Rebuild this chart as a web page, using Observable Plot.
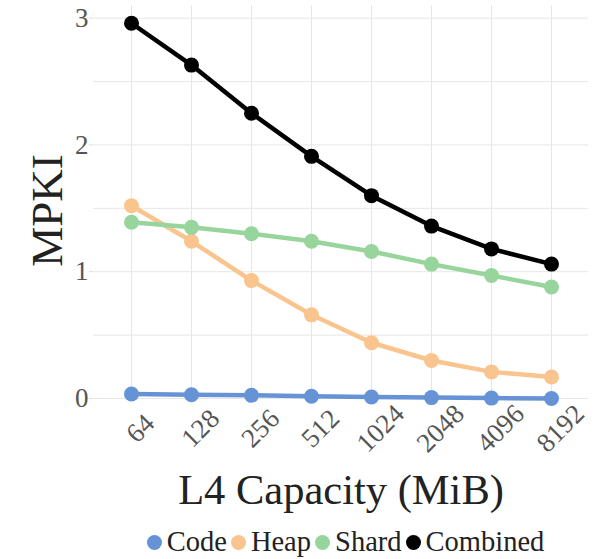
<!DOCTYPE html>
<html>
<head>
<meta charset="utf-8">
<script src="https://cdn.jsdelivr.net/npm/d3@7"></script>
<script src="https://cdn.jsdelivr.net/npm/@observablehq/plot@0.6"></script>
<style>
  html, body { margin: 0; padding: 0; background: #fff; font-family: 'Liberation Serif'; }
  #chart svg { display: block; }
  .legend { display: flex; justify-content: center; align-items: center; font-family: 'Liberation Serif'; font-size: 28.5px; color: #222; height: 34px; margin-top: 10px; padding-left: 90px; }
  .legend .item { display: flex; align-items: center; margin-left: 4px; }
  .legend .item:first-child { margin-left: 0; }
  .legend .sw { width: 15px; height: 15px; border-radius: 50%; display: inline-block; margin-right: 5px; }
</style>
</head>
<body>
<div id="chart"></div>
<script>
const sizes = ["64", "128", "256", "512", "1024", "2048", "4096", "8192"];
const seriesNames = ["Code", "Heap", "Shard", "Combined"];
const seriesColors = ["#6593d6", "#f9c48e", "#98d59c", "#000000"];
const code = [0.035, 0.03, 0.025, 0.018, 0.012, 0.007, 0.003, 0.0];
const heap = [1.52, 1.24, 0.93, 0.66, 0.44, 0.30, 0.21, 0.17];
const shard = [1.39, 1.35, 1.30, 1.24, 1.16, 1.06, 0.97, 0.88];
const combined = [2.96, 2.63, 2.25, 1.91, 1.60, 1.36, 1.18, 1.06];
const yTicks = [0, 1, 2, 3];
const yGrid = [0, 0.5, 1, 1.5, 2, 2.5, 3];

const valuesBySeries = [code, heap, shard, combined];
const data = seriesNames.flatMap((name, i) =>
  sizes.map((s, j) => ({series: name, size: s, value: valuesBySeries[i][j]}))
);

const serif = "Liberation Serif";

const chart = Plot.plot({
  width: 601,
  height: 515,
  marginLeft: 93,
  marginRight: 13,
  marginTop: 5,
  marginBottom: 117,
  style: {fontFamily: serif, background: "white"},
  x: {type: "point", domain: sizes, padding: 0.6, label: null, axis: null},
  y: {domain: [0, 3.1], label: null},
  color: {domain: seriesNames, range: seriesColors},
  marks: [
    Plot.gridX(sizes, {stroke: "#e6e6e6", strokeOpacity: 1, strokeWidth: 1}),
    Plot.gridY(yGrid, {stroke: "#e6e6e6", strokeOpacity: 1, strokeWidth: 1}),
    Plot.axisY(yTicks, {tickSize: 4, tickPadding: 1, fontSize: 27, color: "#555", stroke: "#ddd", tickFormat: d => String(d), fontFamily: serif}),
    Plot.text(sizes, {x: d => d, frameAnchor: "bottom", dx: 9, dy: 30, rotate: -45, textAnchor: "middle", lineAnchor: "middle", fontSize: 27, fill: "#555", fontFamily: serif}),
    Plot.text(["MPKI"], {frameAnchor: "left", rotate: -90, textAnchor: "middle", lineAnchor: "middle", dx: -46, dy: 8.5, fontSize: 45, fill: "#222", fontFamily: serif}),
    Plot.text(["L4 Capacity (MiB)"], {frameAnchor: "bottom", lineAnchor: "bottom", dy: 105, fontSize: 42.5, fill: "#222", fontFamily: serif}),
    Plot.line(data, {x: "size", y: "value", stroke: "series", z: "series", strokeWidth: 4.5}),
    Plot.dot(data, {x: "size", y: "value", fill: "series", r: 7.5})
  ]
});
document.getElementById("chart").appendChild(chart);

const legend = document.createElement("div");
legend.className = "legend";
seriesNames.forEach((name, i) => {
  const item = document.createElement("span");
  item.className = "item";
  const sw = document.createElement("span");
  sw.className = "sw";
  sw.style.background = seriesColors[i];
  item.appendChild(sw);
  const t = document.createElement("span");
  t.textContent = name;
  item.appendChild(t);
  legend.appendChild(item);
});
document.body.appendChild(legend);
</script>
</body>
</html>
